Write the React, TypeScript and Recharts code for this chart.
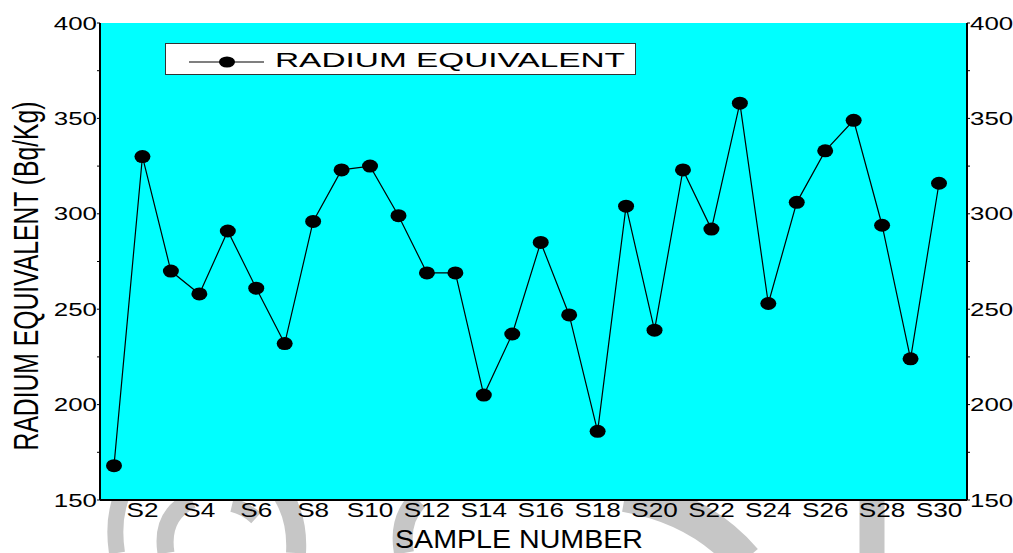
import React from 'react';
import { LineChart, Line, XAxis, YAxis, CartesianGrid, Label } from 'recharts';

const SAMPLES = [
  'S1', 'S2', 'S3', 'S4', 'S5', 'S6', 'S7', 'S8', 'S9', 'S10',
  'S11', 'S12', 'S13', 'S14', 'S15', 'S16', 'S17', 'S18', 'S19', 'S20',
  'S21', 'S22', 'S23', 'S24', 'S25', 'S26', 'S27', 'S28', 'S29', 'S30',
];

// Ra eq (Bq/Kg)
const RADIUM_EQ = [
  168, 330, 270, 258, 291, 261, 232, 296, 323, 325,
  299, 269, 269, 205, 237, 285, 247, 186, 304, 239,
  323, 292, 358, 253, 306, 333, 349, 294, 224, 316,
];

const Y_TICKS = [150, 175, 200, 225, 250, 275, 300, 325, 350, 375, 400];
const SERIES_NAME = 'RADIUM EQUIVALENT';
const Y_TITLE = 'RADIUM EQUIVALENT (Bq/Kg)';
const X_TITLE = 'SAMPLE NUMBER';

const data = SAMPLES.map((s, i) => ({ sample: s, raEq: RADIUM_EQ[i] }));

const FONT = '"Liberation Sans", Arial, Helvetica, sans-serif';
const PLOT_BG = '#00FFFF';
const WATERMARK = '#c6c6c6';

// tick text in the original is stretched sideways
const XTick = ({ x, payload }: any) => {
  const show = payload.index % 2 === 1;
  return (
    <text
      transform={`translate(${x},517) scale(1.34,1)`}
      textAnchor="middle"
      fontSize={19.5}
      fontFamily={FONT}
      fill="#000"
    >
      {show ? payload.value : ''}
    </text>
  );
};

const YTick = ({ x, y, payload, textAnchor }: any) => {
  if (payload.value % 50 !== 0) return <g />;
  return (
    <text
      transform={`translate(${x},${y}) scale(1.4,1)`}
      textAnchor={textAnchor}
      dy="0.36em"
      fontSize={18.5}
      fontFamily={FONT}
      fill="#000"
    >
      {payload.value}
    </text>
  );
};

const EllipseDot = ({ cx, cy, index }: any) => (
  <ellipse key={`dot-${index}`} cx={cx} cy={cy} rx={8} ry={6.5} fill="#000" />
);

const YTitle = () => (
  <text
    transform="translate(38,276) scale(1.4,1) rotate(-90)"
    textAnchor="middle"
    fontSize={24.7}
    fontFamily={FONT}
    fill="#000"
  >
    {Y_TITLE}
  </text>
);

const XTitle = () => (
  <text
    transform="translate(519,548) scale(1.1,1)"
    textAnchor="middle"
    fontSize={26}
    fontFamily={FONT}
    fill="#000"
  >
    {X_TITLE}
  </text>
);

// faint grey logo shapes showing under the axis
const Watermark = () => (
  <svg width={1013} height={553} style={{ position: 'absolute', left: 0, top: 0 }}>
    <g fill="none" stroke={WATERMARK} strokeLinecap="butt">
      <path d="M 117 553 Q 112 520 122 495" strokeWidth={16} />
      <path d="M 192 500 Q 160 515 166 553" strokeWidth={17} />
      <path d="M 232 505 Q 245 508 256 518" strokeWidth={14} />
      <path d="M 283 495 Q 298 520 296 553" strokeWidth={20} />
      <path d="M 418 500 Q 398 520 404 553" strokeWidth={20} />
      <path d="M 625 495 Q 700 508 745 560" strokeWidth={34} />
      <path d="M 872 500 L 872 553" strokeWidth={25} />
    </g>
  </svg>
);

const LegendBox = () => (
  <div
    style={{
      position: 'absolute',
      left: 165,
      top: 43,
      width: 471,
      height: 32,
      boxSizing: 'border-box',
      border: '1.5px solid #333',
      background: '#fff',
    }}
  >
    <svg width={468} height={29} style={{ display: 'block' }}>
      <line x1={23} x2={98} y1={18} y2={18} stroke="#000" strokeWidth={1.2} />
      <ellipse cx={61} cy={18} rx={8} ry={5.5} fill="#000" />
      <text
        x={109}
        y={23}
        fontSize={19.5}
        fontFamily={FONT}
        fill="#000"
        textLength={350}
        lengthAdjust="spacingAndGlyphs"
      >
        {SERIES_NAME}
      </text>
    </svg>
  </div>
);

export default function App() {
  return (
    <div style={{ position: 'absolute', left: 0, top: 0, width: 1013, height: 553, background: '#fff' }}>
      <Watermark />
      <div style={{ position: 'absolute', left: 0, top: 0 }}>
        <LineChart width={1013} height={553} data={data} margin={{ top: 23, right: 0, bottom: 0, left: 0 }}>
          <CartesianGrid horizontal={false} vertical={false} fill={PLOT_BG} fillOpacity={1} />
          <XAxis
            dataKey="sample"
            height={53}
            padding={{ left: 14, right: 28 }}
            interval={0}
            tick={<XTick />}
            tickLine={false}
            axisLine={{ stroke: '#000', strokeWidth: 2 }}
          >
            <Label content={<XTitle />} />
          </XAxis>
          <XAxis
            xAxisId="top"
            orientation="top"
            dataKey="sample"
            height={0}
            tick={false}
            tickLine={false}
            axisLine={{ stroke: '#000', strokeWidth: 2 }}
          />
          <YAxis
            yAxisId="left"
            width={100}
            domain={[150, 400]}
            ticks={Y_TICKS}
            interval={0}
            tickSize={3}
            tickMargin={0}
            tick={<YTick />}
            tickLine={{ stroke: '#000' }}
            axisLine={{ stroke: '#000', strokeWidth: 2 }}
          >
            <Label content={<YTitle />} />
          </YAxis>
          <YAxis
            yAxisId="right"
            orientation="right"
            width={46}
            domain={[150, 400]}
            ticks={Y_TICKS}
            interval={0}
            tickSize={3}
            tickMargin={0}
            tick={<YTick />}
            tickLine={{ stroke: '#000' }}
            axisLine={{ stroke: '#000', strokeWidth: 2 }}
          />
          <Line
            yAxisId="left"
            type="linear"
            dataKey="raEq"
            name={SERIES_NAME}
            stroke="#000"
            strokeWidth={1.2}
            dot={<EllipseDot />}
            activeDot={false}
            isAnimationActive={false}
          />
          {/* same series on the mirrored axis, invisible, so the right axis gets drawn */}
          <Line
            yAxisId="right"
            type="linear"
            dataKey="raEq"
            stroke="none"
            dot={false}
            activeDot={false}
            legendType="none"
            isAnimationActive={false}
          />
        </LineChart>
      </div>
      <LegendBox />
    </div>
  );
}
